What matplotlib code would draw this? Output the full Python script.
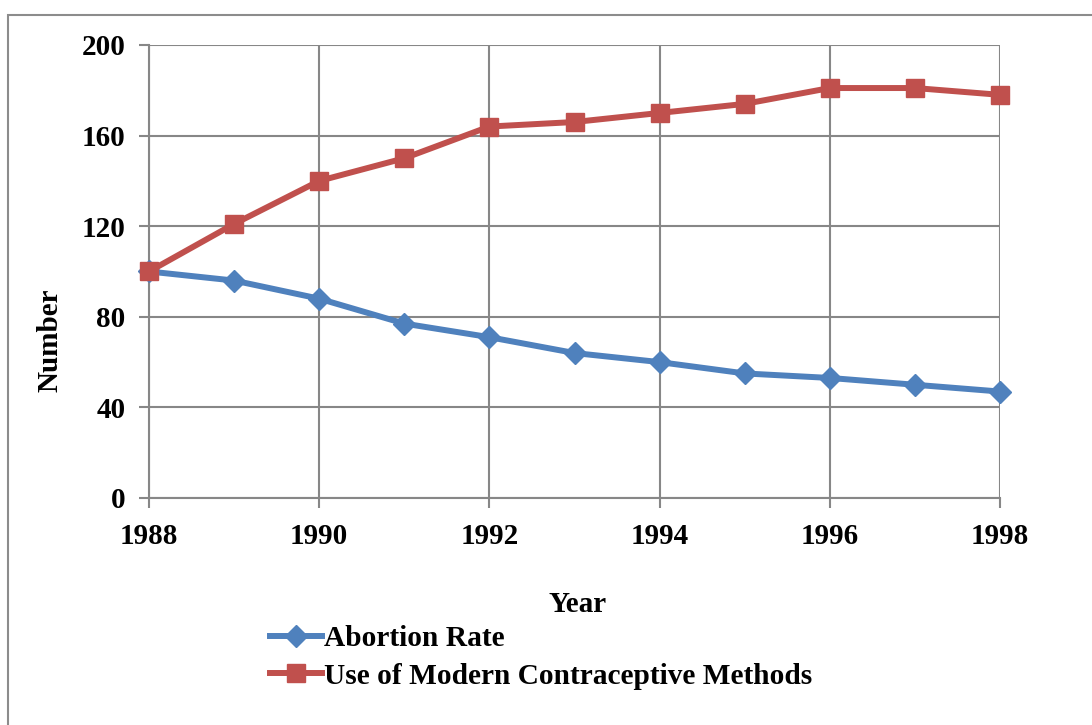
import matplotlib.pyplot as plt
from matplotlib.patches import Rectangle

years = [1988, 1989, 1990, 1991, 1992, 1993, 1994, 1995, 1996, 1997, 1998]
abortion_rate = [100, 96, 88, 77, 71, 64, 60, 55, 53, 50, 47]
contraceptive_use = [100, 121, 140, 150, 164, 166, 170, 174, 181, 181, 178]

plt.rcParams['font.family'] = ['Liberation Serif', 'DejaVu Serif']
plt.rcParams['font.weight'] = 'bold'

W, H = 1092, 725
fig = plt.figure(figsize=(W / 100, H / 100), dpi=100)

# chart border
fig.patches.append(Rectangle((8 / W, -0.01), 1.02, 1 - 15 / H + 0.01,
                             transform=fig.transFigure, fill=False,
                             edgecolor='#8c8c8c', linewidth=1.5))

ax = fig.add_axes([149 / W, 1 - 498 / H, (1000 - 149) / W, (498 - 45) / H])

grid_c = '#878787'
ax.plot(years, abortion_rate, color='#4F81BD', linewidth=4.3, marker='D',
        markersize=11, label='Abortion Rate', zorder=3, clip_on=False)
ax.plot(years, contraceptive_use, color='#C0504D', linewidth=4.3, marker='s',
        markersize=13.5, label='Use of Modern Contraceptive Methods',
        zorder=3, clip_on=False)

ax.set_xlim(1988, 1998)
ax.set_ylim(0, 200)
ax.set_xticks(range(1988, 1999, 2))
ax.set_yticks(range(0, 201, 40))
ax.grid(True, color=grid_c, linewidth=1.5)
ax.set_axisbelow(True)
for s in ['top', 'right']:
    ax.spines[s].set_visible(False)
ax.spines['left'].set_color(grid_c)
ax.spines['bottom'].set_color(grid_c)
ax.spines['left'].set_linewidth(1.5)
ax.spines['bottom'].set_linewidth(1.5)
ax.tick_params(axis='both', colors=grid_c, width=1.5, length=7,
               labelcolor='black', labelsize=21)
ax.tick_params(axis='x', pad=11)
ax.tick_params(axis='y', pad=10)
for lab in ax.get_xticklabels() + ax.get_yticklabels():
    lab.set_fontweight('bold')

fig.text(578 / W, 1 - 604 / H, 'Year', ha='center', va='center',
         fontsize=21, fontweight='bold')
fig.text(50 / W, 1 - 340 / H, 'Number', ha='center', va='center',
         rotation=90, fontsize=21, fontweight='bold')

fig.legend(loc='upper left', bbox_to_anchor=(270 / W, 1 - 625 / H),
           frameon=False, handlelength=1.75, handletextpad=0.08,
           labelspacing=0.36, borderaxespad=0, borderpad=0,
           prop={'weight': 'bold', 'size': 21.2})

fig.savefig('out.png', dpi=100)
